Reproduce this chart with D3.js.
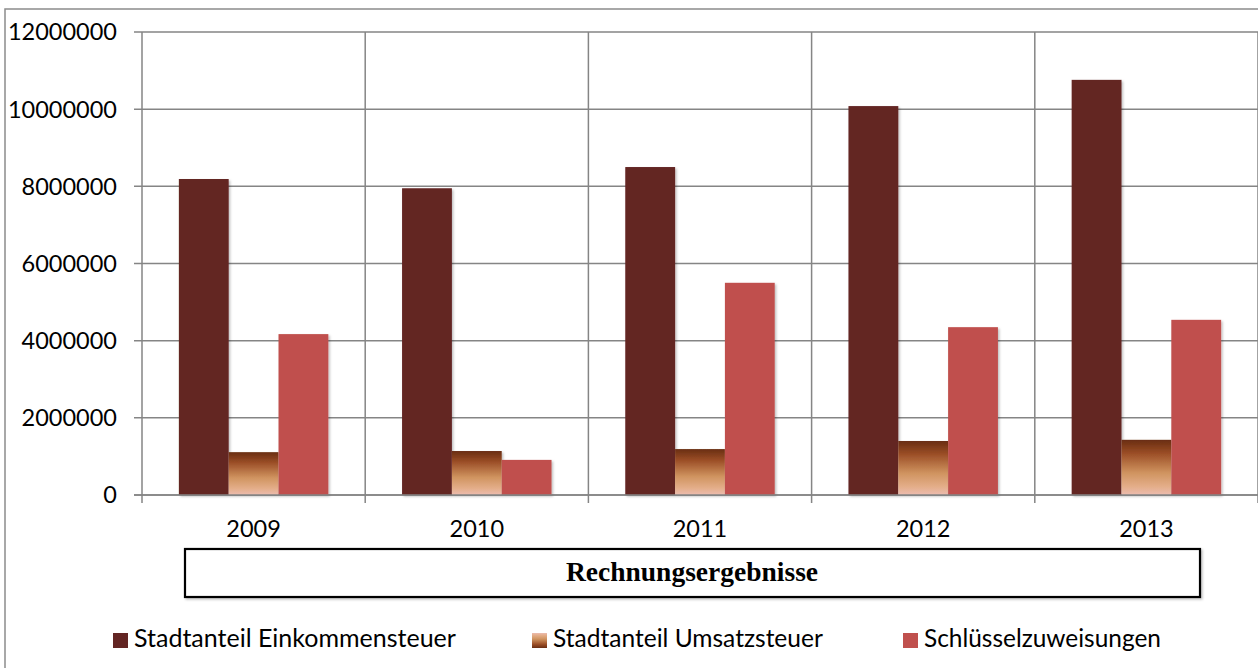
<!DOCTYPE html>
<html><head><meta charset="utf-8">
<script src="https://cdn.jsdelivr.net/npm/d3@7"></script>
<style>
html,body{margin:0;padding:0;background:#fff;}
svg{display:block;}
</style></head>
<body>
<svg id="c" width="1258" height="668"></svg>
<script>
const years = ["2009","2010","2011","2012","2013"];
const seriesNames = ["Stadtanteil Einkommensteuer","Stadtanteil Umsatzsteuer","Schlüsselzuweisungen"];
const einkommensteuer = [8190000, 7950000, 8500000, 10080000, 10760000];
const umsatzsteuer = [1110000, 1140000, 1190000, 1400000, 1430000];
const schluesselzuweisungen = [4170000, 910000, 5500000, 4350000, 4540000];
const yTicks = [0, 2000000, 4000000, 6000000, 8000000, 10000000, 12000000];
const axisTitle = "Rechnungsergebnisse";

(function(){
const seriesValues = [einkommensteuer, umsatzsteuer, schluesselzuweisungen];
const fills = ["#632523", "url(#gradBar)", "#C0504D"];
const legendFills = ["#632523", "url(#gradLeg)", "#C0504D"];

const svg = d3.select("#c");
const defs = svg.append("defs");
function grad(id, stops){
  const g = defs.append("linearGradient").attr("id", id).attr("x1",0).attr("y1",0).attr("x2",0).attr("y2",1);
  stops.forEach(s => g.append("stop").attr("offset", s[0]).attr("stop-color", s[1]));
}
const barStops = [[0,"#692d12"],[0.25,"#9c4f27"],[0.6,"#d09460"],[0.85,"#e4ae8a"],[1,"#ecbcb0"]];
grad("gradBar", barStops);
grad("gradLeg", barStops.slice().reverse().map(s => [1 - s[0], s[1]]));
const f = defs.append("filter").attr("id","sh").attr("x","-10%").attr("y","-10%").attr("width","130%").attr("height","130%");
f.append("feDropShadow").attr("dx",1.5).attr("dy",1.5).attr("stdDeviation",1.2).attr("flood-color","#000").attr("flood-opacity",0.25);

svg.append("rect").attr("x",5).attr("y",9).attr("width",1270).attr("height",680)
  .attr("fill","none").attr("stroke","#8c8c8c").attr("stroke-width",1.5);

const pl = 142, pr = 1258, pt = 32, pb = 495;
const x = d3.scaleBand().domain(years).range([pl, pr]).padding(0);
const xs = d3.scaleBand().domain(d3.range(3)).range([0, x.bandwidth()]).paddingInner(0).paddingOuter(0.74);
const y = d3.scaleLinear().domain([0, 12000000]).range([pb, pt]);

const gridColor = "#858585";
svg.append("g").selectAll("line").data(yTicks).join("line")
  .attr("x1", pl - 8).attr("x2", pr + 10)
  .attr("y1", d => y(d)).attr("y2", d => y(d))
  .attr("stroke", gridColor).attr("stroke-width", 1.5);
const bounds = years.map(yr => x(yr)).concat([pr]);
svg.append("g").selectAll("line").data(bounds).join("line")
  .attr("x1", d => d).attr("x2", d => d)
  .attr("y1", pt).attr("y2", pb + 8)
  .attr("stroke", gridColor).attr("stroke-width", 1.5);

svg.append("g").selectAll("text").data(yTicks).join("text")
  .attr("x", 117).attr("y", d => y(d)).attr("dy", "0.36em")
  .attr("text-anchor","end")
  .style("font-family","Lato, 'Open Sans', sans-serif").style("font-size","23.5px").attr("fill","#000")
  .text(d => d3.format("d")(d));

svg.append("g").selectAll("text").data(years).join("text")
  .attr("x", d => x(d) + x.bandwidth()/2).attr("y", 537)
  .attr("text-anchor","middle")
  .style("font-family","Lato, 'Open Sans', sans-serif").style("font-size","23.5px").attr("fill","#000")
  .text(d => d);

const g = svg.append("g");
years.forEach((yr, i) => {
  seriesValues.forEach((vals, s) => {
    g.append("rect")
      .attr("x", x(yr) + xs(s)).attr("width", xs.bandwidth())
      .attr("y", y(vals[i])).attr("height", y(0) - y(vals[i]))
      .attr("fill", fills[s]).attr("filter","url(#sh)");
  });
});
svg.append("line").attr("x1", pl - 8).attr("x2", pr + 10).attr("y1", y(0)).attr("y2", y(0))
  .attr("stroke", gridColor).attr("stroke-width", 1.5);

svg.append("rect").attr("x",185).attr("y",549).attr("width",1015).attr("height",48)
  .attr("fill","#fff").attr("stroke","#000").attr("stroke-width",2.2).attr("filter","url(#sh)");
svg.append("text").attr("x", 692).attr("y", 581).attr("text-anchor","middle")
  .style("font-family","'Liberation Serif', 'Times New Roman', serif").style("font-weight","bold").style("font-size","27.5px")
  .text(axisTitle);

const legX = [113, 532, 903];
const legTextW = [322, 270, 237];
seriesNames.forEach((n, s) => {
  svg.append("rect").attr("x", legX[s]).attr("y", 633).attr("width", 15).attr("height", 15).attr("fill", legendFills[s]);
  const t = svg.append("text").attr("x", legX[s] + 21).attr("y", 647)
    .style("font-family","Lato, 'Open Sans', sans-serif").style("font-size","23px").attr("fill","#000").text(n);
  const w = t.node().getComputedTextLength();
  t.style("font-size", (23 * legTextW[s] / w).toFixed(2) + "px");
});
})();
</script>
</body></html>
